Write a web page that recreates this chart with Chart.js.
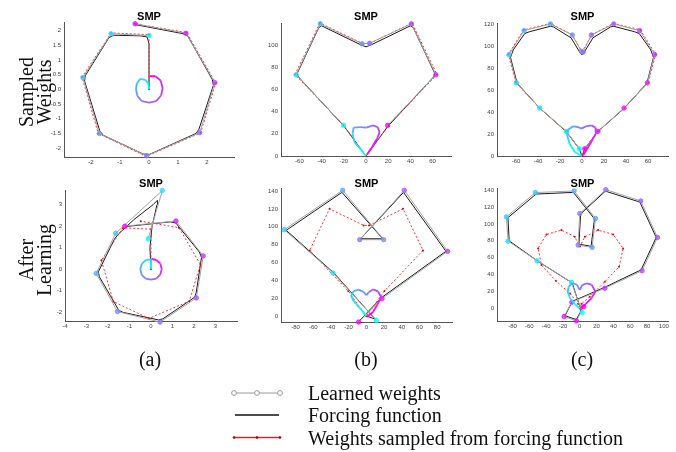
<!DOCTYPE html>
<html><head><meta charset="utf-8">
<script src="https://cdn.jsdelivr.net/npm/chart.js@4.4.0/dist/chart.umd.min.js"></script>
<style>
html,body{margin:0;padding:0;background:#fff;}
body{width:676px;height:452px;position:relative;overflow:hidden;font-family:"Liberation Serif","Times New Roman",serif;color:#111;}
canvas{position:absolute;}
.lbl{position:absolute;font-size:20px;line-height:20px;white-space:nowrap;}
.rot{transform:translate(-50%,-50%) rotate(-90deg);}
.ctr{transform:translate(-50%,-50%);}
.ttl{position:absolute;font-family:"Liberation Sans",Arial,sans-serif;font-weight:bold;font-size:11px;line-height:11px;transform:translate(-50%,-50%);color:#000;}
</style></head><body>
<script>
// ---------- DATA ----------
const xTicksA1 = [-2,-1,0,1,2];
const yTicksA1 = [-2,-1.5,-1,-0.5,0,0.5,1,1.5,2];
const xTicksA2 = [-4,-3,-2,-1,0,1,2,3];
const yTicksA2 = [-2,-1,0,1,2,3];
const xTicksB1 = [-60,-40,-20,0,20,40,60];
const yTicksB1 = [0,20,40,60,80,100];
const xTicksC1 = [-60,-40,-20,0,20,40,60];
const yTicksC1 = [0,20,40,60,80,100,120];
const xTicksB2 = [-80,-60,-40,-20,0,20,40,60,80];
const yTicksB2 = [0,20,40,60,80,100,120,140];
const xTicksC2 = [-80,-60,-40,-20,0,20,40,60,80,100];
const yTicksC2 = [0,20,40,60,80,100,120,140];

// column (a)
const aSampled = [[0,0],[0,1.86],[-1.3,1.92],[-2.31,0.42],[-1.75,-1.5],[-0.1,-2.28],[1.78,-1.48],[2.3,0.22],[1.3,1.93],[-0.48,2.23]];
const a1Weights = [[0,1.83],[-1.31,1.89],[-2.28,0.40],[-1.71,-1.50],[-0.08,-2.26],[1.75,-1.47],[2.27,0.23],[1.27,1.91],[-0.48,2.23]];
const a1Force = [[0,0],[0,1.55],[-0.06,1.78],[-0.3,1.82],[-1.22,1.84],[-1.38,1.76],[-2.2,0.46],[-2.22,0.28],[-1.7,-1.4],[-1.58,-1.56],[-0.2,-2.2],[0.02,-2.21],[1.62,-1.5],[1.72,-1.36],[2.22,0.14],[2.18,0.34],[1.32,1.84],[1.14,1.9],[-0.46,2.2]];
const a1Traj = [[0,0],[-0.03,0.2],[-0.12,0.32],[-0.3,0.36],[-0.42,0.2],[-0.45,0],[-0.4,-0.22],[-0.25,-0.4],[0,-0.45],[0.25,-0.4],[0.42,-0.2],[0.47,0.05],[0.4,0.3],[0.22,0.45],[0.02,0.45]];
const a2Weights = [[-0.13,1.42],[0.53,3.66],[-1.64,1.67],[-2.55,-0.19],[-1.56,-1.96],[0.42,-2.45],[2.11,-1.33],[2.43,0.62],[1.16,2.24],[-1.22,2.0]];
const a2Force = [[0,0],[-0.05,1.0],[0.05,2.0],[0.28,3.0],[0.3,3.2],[0.1,3.0],[-0.8,2.3],[-1.5,1.65],[-1.7,1.4],[-2.45,-0.12],[-2.4,-0.35],[-1.5,-1.9],[-1.3,-2.0],[0.35,-2.35],[0.55,-2.3],[2.03,-1.3],[2.1,-1.1],[2.35,0.55],[2.25,0.8],[1.15,2.15],[0.9,2.2],[-1.2,1.98]];
const a2Traj = [[0,0],[0,0.25],[0,0.47],[-0.25,0.42],[-0.43,0.25],[-0.5,0],[-0.43,-0.26],[-0.25,-0.43],[0,-0.48],[0.25,-0.43],[0.43,-0.25],[0.5,0],[0.43,0.27],[0.25,0.43],[0.02,0.48]];

// column (b)
const bSampled = [[0,0],[-20.5,28],[-64,73.5],[-41.5,120],[-3,101.5],[3,101.5],[41.5,120],[64,73.5],[20.5,28],[0,0]];
const b1Weights = [[-20.2,27.7],[-63,73.3],[-41.2,119.3],[-3.6,101.3],[3.3,101.8],[40.8,119.3],[63,73.3],[19.5,27.7]];
const b1Force = [[0,0],[-19.5,26.5],[-61,71.5],[-62,74.5],[-42.5,116],[-40,117.5],[-5,100.5],[0,98.5],[5,100.5],[40,117.5],[42.5,116],[62,74.5],[61,71.5],[19.5,26.5],[0,0]];
const b1Traj = [[0,0],[-6.6,8.1],[-10.5,12.6],[-12.1,20.2],[-11.2,25.6],[-5.2,26.1],[0.3,25.6],[6.3,27.7],[10.5,26.1],[12.3,21.6],[9.9,15.6],[5.5,8.1],[1,1.5]];
const b2Weights = [[11.3,-4.8],[-37.6,48.2],[-92.7,96.7],[-26.7,140.8],[19.6,85.5],[-7.5,85.5],[42.9,140.8],[91.9,72.5],[17.7,19.5],[-8.7,-6.7]];
const b2Force = [[0,0],[10,-3.5],[-36.5,48],[-90.5,96],[-27.5,138.5],[18.5,86.5],[-6.5,86.5],[42,138.5],[90,72.5],[17,20.5],[-8,-5.5]];
const b2Traj = [[0,0],[-6.8,8.3],[-13.6,15.7],[-17.3,22.4],[-14.3,28],[-8.7,29.5],[-3,26.9],[0,23.2],[3,26.9],[7.9,29.9],[13.2,27.6],[16.6,21.3],[12.1,12],[7.5,4.5],[0.8,-0.8]];

// column (c)
const cSampled = [[0,0],[-2.5,6.9],[-14.6,22.8],[-38.8,44],[-60.3,67.2],[-67,92.8],[-53,115.3],[-28.8,121.2],[-9.2,111],[-0.3,96],[0.3,96],[9.2,111],[28.8,121.2],[53,115.3],[67,92.8],[60.3,67.2],[38.8,44],[14.6,22.8],[2.5,6.9],[0,0]];
const c1Weights = [[-2.5,6.7],[-14.2,22.5],[-38.5,43.8],[-59.7,66.9],[-66.4,92.7],[-52.7,114.6],[-28.7,120.7],[-8.8,110.6],[-0.6,95.7],[1,94.9],[8.5,110.6],[28.8,120.7],[52.4,114.6],[66.1,92.7],[59.4,66.9],[38.2,43.8],[14.5,22.5],[2.5,6.7]];
const c1Force = [[0,0],[-2.4,6.4],[-14,22],[-38,43.3],[-59,66.5],[-65,90],[-62.5,97],[-52,112],[-48,113.5],[-29,118.5],[-26,118],[-10,108],[-1.5,94],[0,92.5],[1.5,94],[10,108],[26,118],[29,118.5],[48,113.5],[52,112],[62.5,97],[65,90],[59,66.5],[38,43.3],[14,22],[2.4,6.4],[0,0]];
const c1Traj = [[0,0],[-6.6,3.6],[-11.2,11.3],[-13.6,18.9],[-12.7,24],[-8.2,27.1],[-3.6,26.5],[-0.6,25],[3.4,27.1],[8.5,28],[12.2,26],[12.5,20.5],[8.5,13],[4,5.5],[1,0.6]];
const c2Sampled = [[0,0],[-2,5.2],[-11.5,17.5],[-28.5,32.5],[-45.6,51.2],[-49.5,71],[-39.7,87.6],[-21.8,92.7],[-6,84.8],[-0.3,73.5],[0.3,73.5],[6,84.8],[21.8,92.7],[39.7,87.6],[51.6,71],[46.8,49.2],[29.8,31.5],[11.9,13.7],[2,5.2],[0,0]];
const c2Weights = [[2.8,-5.2],[-9.9,30.8],[-50.8,56.3],[-85.3,79.6],[-87.3,108.4],[-52.8,137.3],[-6.7,139.2],[18.7,106.5],[14.7,72.2],[-2,74.9],[0,112.4],[31,140.8],[72.6,127.3],[92.5,84],[74.2,44.5],[29.8,23.7],[-9.5,7.1],[-18.7,-9.9],[-4,-15],[4.8,1.9]];
const c2Force = [[0,0],[2,-4],[-9,30],[-49.5,55.5],[-84,80],[-85.5,107.5],[-52,135.5],[-7.5,137.5],[17.5,106],[13.5,73.5],[-1,76],[1,112],[30.5,139],[71.5,126],[91,84],[73,45.5],[29,24.5],[-9,8],[-17.5,-9],[-4,-13.5],[4,1.5]];
const c2Traj = [[0,0],[-6,5],[-11.5,11.5],[-14.5,19.7],[-13,26],[-8.3,29.6],[-3.5,28],[0,21.7],[3,27.5],[8.5,29.6],[14,28],[18.7,19.7],[14,12],[7,5],[1,0]];

// ---------- LAYOUT (chart area in page px) ----------
const panels = [
  {area:[64,22,234,157],  titleY:15.5, xr:[-2.93,2.93], yr:[-2.3,2.27], xt:xTicksA1, yt:yTicksA1, w:a1Weights, f:a1Force, s:aSampled,  t:a1Traj},
  {area:[281,23,451,156], titleY:15.5, xr:[-76.6,76.6], yr:[0,119.5],   xt:xTicksB1, yt:yTicksB1, w:b1Weights, f:b1Force, s:bSampled,  t:b1Traj},
  {area:[497,23,668,156], titleY:15.5, xr:[-77.3,78.2], yr:[0,121],     xt:xTicksC1, yt:yTicksC1, w:c1Weights, f:c1Force, s:cSampled,  t:c1Traj},
  {area:[65,190,237,321], titleY:182.5,xr:[-4,4],       yr:[-2.4,3.65], xt:xTicksA2, yt:yTicksA2, w:a2Weights, f:a2Force, s:aSampled,  t:a2Traj},
  {area:[281,188,452,322],titleY:182.5,xr:[-96.4,96.8], yr:[-6.7,142.7],xt:xTicksB2, yt:yTicksB2, w:b2Weights, f:b2Force, s:bSampled,  t:b2Traj},
  {area:[497,188,668,321],titleY:182.5,xr:[-98.5,105],  yr:[-15.2,142], xt:xTicksC2, yt:yTicksC2, w:c2Weights, f:c2Force, s:c2Sampled, t:c2Traj}
];

const cool = t => `rgb(${Math.round(255*t)},${Math.round(255*(1-t))},255)`;
const coolSoft = t => `rgba(${Math.round(255*t)},${Math.round(255*(1-t))},255,0.75)`;
const pts = arr => arr.map(p => ({x:p[0], y:p[1]}));
const YW = 30, XH = 12, PT = 6, PR = 6;

function axis(range, ticks, isX){
  return {
    type:'linear', min:range[0], max:range[1], position: isX ? 'bottom' : 'left',
    afterBuildTicks: s => { s.ticks = ticks.map(v => ({value:v})); },
    afterFit: s => { if (isX) s.height = XH; else s.width = YW; },
    grid:{display:false, drawTicks:false},
    border:{display:true, color:'#555', width:1},
    ticks:{font:{size:6, family:'"Liberation Sans", Arial, sans-serif'}, color:'#444',
           padding: isX ? 2 : 3, maxRotation:0, autoSkip:false, callback: v => String(v)}
  };
}

panels.forEach(p => {
  const [l,t,r,b] = p.area;
  const cv = document.createElement('canvas');
  const W = (r - l) + YW + PR, H = (b - t) + PT + XH;
  cv.width = W; cv.height = H;
  cv.style.left = (l - YW) + 'px'; cv.style.top = (t - PT) + 'px';
  cv.style.width = W + 'px'; cv.style.height = H + 'px';
  document.body.appendChild(cv);

  const ttl = document.createElement('div');
  ttl.className = 'ttl'; ttl.textContent = 'SMP';
  ttl.style.left = ((l + r) / 2) + 'px'; ttl.style.top = p.titleY + 'px';
  document.body.appendChild(ttl);

  const nT = p.t.length, nW = p.w.length;
  new Chart(cv, {
    type:'scatter',
    data:{datasets:[
      {data:pts(p.t), showLine:true, borderWidth:1.8, pointRadius:0,
       segment:{borderColor: ctx => cool(ctx.p0DataIndex/(nT-2))}, borderColor:cool(0)},
      {data:pts(p.w), showLine:true, borderColor:'#a3a3a3', borderWidth:1,
       pointRadius:2.2, pointBorderWidth:0.8,
       pointBackgroundColor:p.w.map((_,i)=>coolSoft(i/(nW-1))),
       pointBorderColor:p.w.map((_,i)=>cool(i/(nW-1)))},
      {data:pts(p.s), showLine:true, borderColor:'#ff3030', borderWidth:1, borderDash:[2,2],
       pointRadius:1, pointBackgroundColor:'#e00000', pointBorderWidth:0},
      {data:pts(p.f), showLine:true, borderColor:'#1a1a1a', borderWidth:1, pointRadius:0}
    ]},
    options:{
      responsive:false, animation:false, devicePixelRatio:1, events:[],
      layout:{padding:{top:PT, right:PR, left:0, bottom:0}},
      plugins:{legend:{display:false}, tooltip:{enabled:false}, title:{display:false}},
      scales:{x:axis(p.xr, p.xt, true), y:axis(p.yr, p.yt, false)},
      clip:false
    }
  });
});
</script>

<!-- row labels -->
<div class="lbl rot" style="left:25.5px;top:92px;">Sampled</div>
<div class="lbl rot" style="left:44px;top:92px;">Weights</div>
<div class="lbl rot" style="left:25.5px;top:260px;">After</div>
<div class="lbl rot" style="left:44px;top:260px;">Learning</div>

<!-- column labels -->
<div class="lbl ctr" style="left:150px;top:359px;">(a)</div>
<div class="lbl ctr" style="left:366px;top:359px;">(b)</div>
<div class="lbl ctr" style="left:582px;top:359px;">(c)</div>

<!-- legend -->
<svg style="position:absolute;left:0;top:0;" width="676" height="452">
  <line x1="234" y1="393" x2="280" y2="393" stroke="#9a9a9a" stroke-width="1"/>
  <circle cx="234" cy="393" r="2.4" fill="#fff" stroke="#9a9a9a" stroke-width="1"/>
  <circle cx="257" cy="393" r="2.4" fill="#fff" stroke="#9a9a9a" stroke-width="1"/>
  <circle cx="280" cy="393" r="2.4" fill="#fff" stroke="#9a9a9a" stroke-width="1"/>
  <line x1="235" y1="415" x2="279" y2="415" stroke="#111" stroke-width="1.3"/>
  <line x1="234" y1="437.5" x2="280" y2="437.5" stroke="#ee1c1c" stroke-width="1.5"/>
  <circle cx="234" cy="437.5" r="1.3" fill="#b00000"/>
  <circle cx="257" cy="437.5" r="1.3" fill="#b00000"/>
  <circle cx="280" cy="437.5" r="1.3" fill="#b00000"/>
</svg>
<div class="lbl" style="left:308px;top:383px;">Learned weights</div>
<div class="lbl" style="left:308px;top:405px;">Forcing function</div>
<div class="lbl" style="left:308px;top:427.5px;">Weights sampled from forcing function</div>
</body></html>
